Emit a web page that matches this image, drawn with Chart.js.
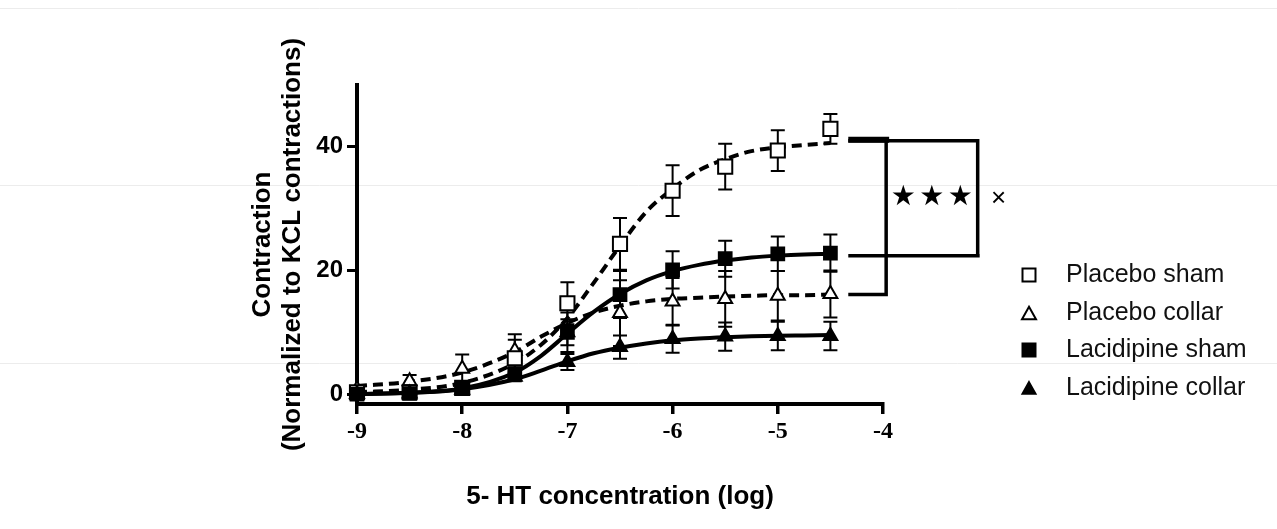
<!DOCTYPE html>
<html><head><meta charset="utf-8">
<script src="https://cdn.jsdelivr.net/npm/chart.js@4.4.0/dist/chart.umd.min.js"></script>
<style>html,body{margin:0;padding:0;background:#fff;}#wrap{width:1277px;height:529px;}</style>
</head><body><div id="wrap"><canvas id="c" width="1277" height="529"></canvas></div>
<script>
// ---- data ----
const concentrations = [-9, -8.5, -8, -7.5, -7, -6.5, -6, -5.5, -5, -4.5];
const placeboShamMean = [0.3, 0.3, 1.0, 5.8, 14.7, 24.3, 32.9, 36.8, 39.4, 42.9];
const placeboShamSem = [0.3, 0.4, 0.9, 3.0, 3.4, 4.2, 4.1, 3.7, 3.3, 2.4];
const placeboCollarMean = [0.8, 2.1, 4.1, 7.0, 10.0, 13.1, 15.0, 15.4, 15.9, 16.2];
const placeboCollarSem = [0.5, 1.0, 2.3, 2.7, 3.2, 5.3, 3.8, 4.5, 4.0, 3.8];
const lacidipineShamMean = [0.0, 0.1, 1.0, 3.3, 10.0, 16.1, 20.1, 21.9, 22.7, 22.8];
const lacidipineShamSem = [0.2, 0.3, 0.5, 0.8, 2.1, 3.8, 3.0, 2.9, 2.8, 3.0];
const lacidipineCollarMean = [0.0, 0.1, 0.7, 2.8, 5.2, 7.6, 8.9, 9.3, 9.4, 9.4];
const lacidipineCollarSem = [0.2, 0.2, 0.4, 0.7, 1.3, 1.9, 2.2, 2.3, 2.3, 2.3];

// fitted curves
const curveX = [-9, -8.5, -8, -7.5, -7.25, -7, -6.75, -6.5, -6.25, -6, -5.75, -5.5, -5.25, -5, -4.75, -4.5];
const placeboShamFit = [0.3, 0.7, 1.8, 5.0, 8.0, 12.3, 18.0, 24.0, 29.5, 33.2, 36.2, 38.0, 39.3, 39.9, 40.3, 40.6];
const placeboCollarFit = [1.3, 2.0, 3.5, 6.8, 9.3, 11.5, 13.2, 14.3, 15.0, 15.4, 15.6, 15.8, 15.9, 16.0, 16.0, 16.1];
const lacidipineShamFit = [0.0, 0.2, 0.9, 3.5, 6.2, 9.8, 13.3, 16.2, 18.4, 19.9, 20.9, 21.6, 22.1, 22.4, 22.6, 22.7];
const lacidipineCollarFit = [0.0, 0.2, 0.8, 2.4, 3.8, 5.3, 6.6, 7.5, 8.2, 8.7, 9.0, 9.2, 9.35, 9.45, 9.5, 9.55];

const seriesNames = ['Placebo sham', 'Placebo collar', 'Lacidipine sham', 'Lacidipine collar'];
const xTickValues = [-9, -8, -7, -6, -5, -4];
const xTickLabels = ['-9', '-8', '-7', '-6', '-5', '-4'];
const yTickValues = [0, 20, 40];
const yTickLabels = ['0', '20', '40'];

// significance bracket levels (plateaus compared)
const bracketLevels = [41.0, 22.4, 16.1];
const bracketXs = [-4.33, -3.97, -3.10];
const significanceText = '★★★';
const crossText = '×';

// ---- build ----
const pts = (xs, ys) => xs.map((x, i) => ({x, y: ys[i]}));
const means = [placeboShamMean, placeboCollarMean, lacidipineShamMean, lacidipineCollarMean];
const sems = [placeboShamSem, placeboCollarSem, lacidipineShamSem, lacidipineCollarSem];
const fits = [placeboShamFit, placeboCollarFit, lacidipineShamFit, lacidipineCollarFit];
const markerStyles = [
  {pointStyle: 'rect', r: 10, fill: '#ffffff', order: 0},
  {pointStyle: 'triangle', r: 8, fill: '#ffffff', order: 0},
  {pointStyle: 'rect', r: 9, fill: '#000000', order: -1},
  {pointStyle: 'triangle', r: 8, fill: '#000000', order: -1}
];
const dashed = [true, true, false, false];

const datasets = [];
seriesNames.forEach((name, i) => {
  datasets.push({
    label: name,
    data: pts(concentrations, means[i]),
    showLine: false,
    pointStyle: markerStyles[i].pointStyle,
    pointRadius: markerStyles[i].r,
    pointHoverRadius: markerStyles[i].r,
    pointBackgroundColor: markerStyles[i].fill,
    pointBorderColor: '#000',
    pointBorderWidth: 2,
    order: markerStyles[i].order,
    clip: false
  });
});
seriesNames.forEach((name, i) => {
  datasets.push({
    label: name + ' fit',
    data: pts(curveX, fits[i]),
    showLine: true,
    pointRadius: 0,
    borderColor: '#000',
    borderWidth: 4,
    borderDash: dashed[i] ? [10, 6] : [],
    cubicInterpolationMode: 'monotone',
    fill: false,
    order: 1,
    clip: false
  });
});

const bgPlugin = {
  id: 'bg',
  beforeDraw(chart) {
    const ctx = chart.ctx;
    ctx.save();
    ctx.fillStyle = '#fff';
    ctx.fillRect(0, 0, chart.width, chart.height);
    ctx.strokeStyle = '#ececec';
    ctx.lineWidth = 1;
    [8.5, 185.5, 363.5].forEach(y => { ctx.beginPath(); ctx.moveTo(0, y); ctx.lineTo(chart.width, y); ctx.stroke(); });
    ctx.restore();
  }
};

const errorPlugin = {
  id: 'errbars',
  beforeDatasetsDraw(chart) {
    const ctx = chart.ctx, xs = chart.scales.x, ys = chart.scales.y;
    ctx.save();
    ctx.strokeStyle = '#000';
    ctx.lineWidth = 2;
    means.forEach((m, s) => {
      m.forEach((v, i) => {
        const e = sems[s][i];
        const px = xs.getPixelForValue(concentrations[i]);
        const top = ys.getPixelForValue(v + e), bot = ys.getPixelForValue(v - e);
        ctx.beginPath();
        ctx.moveTo(px, top); ctx.lineTo(px, bot);
        ctx.moveTo(px - 7, top); ctx.lineTo(px + 7, top);
        ctx.moveTo(px - 7, bot); ctx.lineTo(px + 7, bot);
        ctx.stroke();
      });
    });
    ctx.restore();
  }
};

function drawMarker(ctx, style, x, y, size, fill) {
  ctx.beginPath();
  if (style === 'rect') {
    ctx.rect(x - size / 2, y - size / 2, size, size);
  } else {
    const h = size * 0.9;
    ctx.moveTo(x, y - h / 2);
    ctx.lineTo(x + size / 2, y + h / 2);
    ctx.lineTo(x - size / 2, y + h / 2);
    ctx.closePath();
  }
  ctx.fillStyle = fill;
  ctx.fill();
  ctx.lineWidth = 2;
  ctx.strokeStyle = '#000';
  ctx.stroke();
}

const annotPlugin = {
  id: 'annot',
  afterDraw(chart) {
    const ctx = chart.ctx, xs = chart.scales.x, ys = chart.scales.y;
    const xa = xs.getPixelForValue(bracketXs[0]);
    const xb = xs.getPixelForValue(bracketXs[1]);
    const xc = xs.getPixelForValue(bracketXs[2]);
    const y1 = ys.getPixelForValue(bracketLevels[0]);
    const y2 = ys.getPixelForValue(bracketLevels[1]);
    const y3 = ys.getPixelForValue(bracketLevels[2]);
    ctx.save();
    ctx.strokeStyle = '#000';
    ctx.lineCap = 'butt';
    ctx.lineWidth = 6;
    ctx.beginPath(); ctx.moveTo(xa, y1 - 1); ctx.lineTo(xb + 3, y1 - 1); ctx.stroke();
    ctx.lineWidth = 3.5;
    ctx.beginPath();
    ctx.moveTo(xa, y1); ctx.lineTo(xc, y1); ctx.lineTo(xc, y2);
    ctx.moveTo(xa, y2); ctx.lineTo(xc + 2, y2);
    ctx.moveTo(xb, y1 - 3); ctx.lineTo(xb, y3); ctx.lineTo(xa, y3);
    ctx.stroke();
    const cx = (xb + xc) / 2, cy = (y1 + y2) / 2;
    ctx.fillStyle = '#000';
    ctx.font = '28px "DejaVu Sans"';
    ctx.textAlign = 'center';
    ctx.textBaseline = 'middle';
    const stars = Array.from(significanceText);
    stars.forEach((s, k) => ctx.fillText(s, cx + (k - (stars.length - 1) / 2) * 28.5, cy));
    ctx.font = '26px "Liberation Sans"';
    ctx.fillText(crossText, xc + 21, cy + 1);
    const legendY = [275, 313, 350, 388];
    const sizes = [13, 14, 13, 13];
    seriesNames.forEach((name, i) => {
      drawMarker(ctx, markerStyles[i].pointStyle, 1029, legendY[i], sizes[i], markerStyles[i].fill);
      ctx.fillStyle = '#111';
      ctx.font = '25px "Liberation Sans"';
      ctx.textAlign = 'left';
      ctx.textBaseline = 'middle';
      ctx.fillText(name, 1066, legendY[i]);
    });
    ctx.restore();
  }
};

new Chart(document.getElementById('c'), {
  type: 'scatter',
  data: {datasets},
  plugins: [bgPlugin, errorPlugin, annotPlugin],
  options: {
    responsive: false,
    animation: false,
    devicePixelRatio: 1,
    layout: {padding: {left: 230, right: 394, top: 85, bottom: 0}},
    plugins: {legend: {display: false}, tooltip: {enabled: false}},
    scales: {
      x: {
        type: 'linear',
        min: -9, max: -4,
        afterFit(scale) { scale.height = 125; },
        afterBuildTicks(scale) { scale.ticks = xTickValues.map(v => ({value: v})); },
        ticks: {
          color: '#000',
          padding: 3,
          font: {family: '"Liberation Serif"', size: 24, weight: 'bold'},
          callback: (v) => xTickLabels[xTickValues.indexOf(v)] ?? ''
        },
        grid: {display: true, drawOnChartArea: false, drawTicks: true, tickLength: 10, color: '#000', lineWidth: 3.5},
        border: {display: true, color: '#000', width: 4},
        title: {
          display: true,
          text: '5- HT concentration (log)',
          color: '#000',
          font: {family: '"Liberation Sans"', size: 26, weight: 'bold'},
          padding: {top: 0, bottom: 17}
        }
      },
      y: {
        type: 'linear',
        min: -1.6, max: 50,
        afterFit(scale) { scale.width = 127; },
        afterBuildTicks(scale) { scale.ticks = yTickValues.map(v => ({value: v})); },
        ticks: {
          color: '#000',
          padding: 4,
          font: {family: '"Liberation Sans"', size: 24, weight: 'bold'},
          callback: (v) => yTickLabels[yTickValues.indexOf(v)] ?? ''
        },
        grid: {display: true, drawOnChartArea: false, drawTicks: true, tickLength: 10, color: '#000', lineWidth: 3},
        border: {display: true, color: '#000', width: 4},
        title: {
          display: true,
          text: ['Contraction', '(Normalized to KCL contractions)'],
          color: '#000',
          font: {family: '"Liberation Sans"', size: 26, weight: 'bold', lineHeight: 1.15},
          padding: {top: 18, bottom: 0}
        }
      }
    }
  }
});
</script></body></html>
